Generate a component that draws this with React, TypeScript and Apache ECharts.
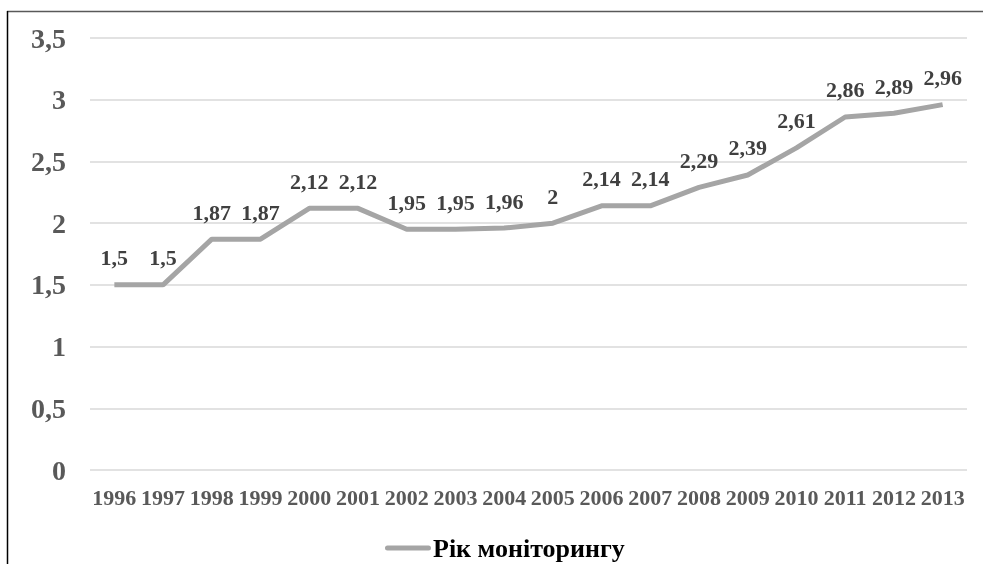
import React, { useEffect, useRef } from "react";
import * as echarts from "echarts";

const years = ["1996","1997","1998","1999","2000","2001","2002","2003","2004","2005","2006","2007","2008","2009","2010","2011","2012","2013"];
const values = [1.5,1.5,1.87,1.87,2.12,2.12,1.95,1.95,1.96,2,2.14,2.14,2.29,2.39,2.61,2.86,2.89,2.96];
const seriesName = "Рік моніторингу";

const fmt = (v: number) => String(v).replace(".", ",");

export default function App() {
  const ref = useRef<HTMLDivElement>(null);
  useEffect(() => {
    const chart = echarts.init(ref.current!, undefined, { renderer: "svg" });
    const font = "Liberation Serif";
    chart.setOption({
      animation: false,
      textStyle: { fontFamily: font },
      grid: { left: 90, right: 16, top: 38, bottom: 94, containLabel: false },
      legend: {
        top: 530,
        left: 380,
        itemWidth: 46,
        itemHeight: 14,
        itemGap: 0,
        textStyle: { fontFamily: font, fontSize: 26, fontWeight: "bold", color: "#000", padding: [0, 0, 0, -3] },
        data: [{
          name: seriesName,
          icon: "path://M2.5,4.5 L43.5,4.5 A2.5,2.5 0 0 1 43.5,9.5 L2.5,9.5 A2.5,2.5 0 0 1 2.5,4.5 Z",
          itemStyle: { color: "#a5a5a5", opacity: 1 },
        }],
      },
      xAxis: {
        type: "category",
        data: years,
        boundaryGap: true,
        axisLine: { show: false },
        axisTick: { show: false },
        axisLabel: { fontFamily: font, fontSize: 22, fontWeight: "bold", color: "#595959", margin: 16, interval: 0 },
      },
      yAxis: {
        type: "value",
        min: 0,
        max: 3.5,
        interval: 0.5,
        axisLine: { show: false },
        axisTick: { show: false },
        splitLine: { lineStyle: { color: "#d9d9d9", width: 1.5 } },
        axisLabel: {
          fontFamily: font, fontSize: 28, fontWeight: "bold", color: "#595959", margin: 24,
          formatter: (v: number) => fmt(v),
        },
      },
      series: [
        {
          name: seriesName,
          type: "line",
          data: values,
          symbol: "circle",
          symbolSize: 0.1,
          showSymbol: true,
          lineStyle: { color: "#a5a5a5", width: 5 },
          itemStyle: { color: "#a5a5a5" },
          label: {
            show: true,
            position: "top",
            distance: 16,
            fontFamily: font,
            fontSize: 22,
            fontWeight: "bold",
            color: "#404040",
            formatter: (p: any) => fmt(p.value),
          },
        },
      ],
      graphic: [
        { type: "line", shape: { x1: 7, y1: 11.5, x2: 983, y2: 11.5 }, style: { stroke: "#595959", lineWidth: 1.5 } },
        { type: "line", shape: { x1: 7.5, y1: 11, x2: 7.5, y2: 564 }, style: { stroke: "#000", lineWidth: 1.5 } },
      ],
    });
    return () => chart.dispose();
  }, []);
  return <div ref={ref} style={{ width: 983, height: 564, position: "fixed", left: 0, top: 0 }} />;
}
